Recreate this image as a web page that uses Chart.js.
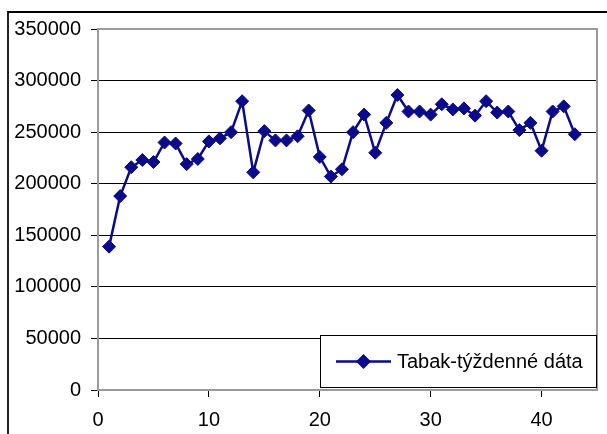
<!DOCTYPE html>
<html>
<head>
<meta charset="utf-8">
<script src="https://cdn.jsdelivr.net/npm/chart.js@4/dist/chart.umd.min.js"></script>
<style>
  html, body { margin: 0; padding: 0; background: #fff; }
  #wrap { position: relative; width: 607px; height: 434px; overflow: hidden; }
  #frame { position: absolute; left: 7px; top: 11px; right: -10px; bottom: -10px;
           border-left: 2px solid #222; border-top: 2px solid #000; }
  canvas { position: absolute; left: 0; top: 0; }
</style>
</head>
<body>
<div id="wrap">
  <div id="frame"></div>
  <canvas id="c" width="607" height="434"></canvas>
</div>
<script>
// Weekly tobacco figures
const weeks = [1, 2, 3, 4, 5, 6, 7, 8, 9, 10,
               11, 12, 13, 14, 15, 16, 17, 18, 19, 20,
               21, 22, 23, 24, 25, 26, 27, 28, 29, 30,
               31, 32, 33, 34, 35, 36, 37, 38, 39, 40,
               41, 42, 43];
const sales = [139000, 188000, 216000, 223000, 221000, 240000, 239000, 219000, 224000, 241000,
               244000, 250000, 280000, 211000, 251000, 242000, 242000, 246000, 271000, 226000,
               207000, 214000, 250000, 267000, 230000, 259000, 286000, 270000, 270000, 267000,
               277000, 272000, 273000, 266000, 280000, 269000, 270000, 252000, 259000, 232000,
               270000, 275000, 248000];
const seriesName = 'Tabak-týždenné dáta';
const xTicks = [0, 10, 20, 30, 40];
const yTicks = [0, 50000, 100000, 150000, 200000, 250000, 300000, 350000];

const NAVY = '#0a0a8a';
const FONT = { family: '"Liberation Sans", Arial, sans-serif', size: 20 };

// gray frame on the top and right sides of the plot area
const plotFrame = {
  id: 'plotFrame',
  beforeDatasetsDraw(chart) {
    const { ctx, chartArea: a } = chart;
    ctx.save();
    ctx.strokeStyle = '#9a9a9a';
    ctx.lineWidth = 2;
    ctx.beginPath();
    ctx.moveTo(a.left, a.top);
    ctx.lineTo(a.right, a.top);
    ctx.lineTo(a.right, a.bottom);
    ctx.stroke();
    ctx.restore();
  }
};

// boxed legend in the lower right corner of the plot
const boxLegend = {
  id: 'boxLegend',
  afterDraw(chart) {
    const { ctx, chartArea: a } = chart;
    const ds = chart.data.datasets[0];
    const right = a.right - 0.5, bottom = a.bottom - 2.5;
    const left = 320.5, top = 335.5;
    ctx.save();
    ctx.fillStyle = '#fff';
    ctx.fillRect(left, top, right - left, bottom - top);
    ctx.strokeStyle = '#000';
    ctx.lineWidth = 1;
    ctx.strokeRect(left, top, right - left, bottom - top);
    const cy = (top + bottom) / 2;
    ctx.strokeStyle = ds.borderColor;
    ctx.lineWidth = ds.borderWidth;
    ctx.beginPath();
    ctx.moveTo(336, cy);
    ctx.lineTo(391, cy);
    ctx.stroke();
    const cx = 363.5, r = 7.5;
    ctx.fillStyle = ds.pointBackgroundColor;
    ctx.beginPath();
    ctx.moveTo(cx - r, cy);
    ctx.lineTo(cx, cy - r);
    ctx.lineTo(cx + r, cy);
    ctx.lineTo(cx, cy + r);
    ctx.closePath();
    ctx.fill();
    ctx.fillStyle = '#000';
    ctx.font = FONT.size + 'px ' + FONT.family;
    ctx.textBaseline = 'middle';
    ctx.textAlign = 'left';
    ctx.fillText(ds.label, 397, cy + 1);
    ctx.restore();
  }
};

new Chart(document.getElementById('c'), {
  type: 'line',
  data: {
    datasets: [{
      label: seriesName,
      data: weeks.map((w, i) => ({ x: w, y: sales[i] })),
      borderColor: NAVY,
      backgroundColor: NAVY,
      borderWidth: 2.5,
      tension: 0,
      pointStyle: 'rectRot',
      pointRadius: 6.5,
      pointBorderWidth: 1,
      pointBackgroundColor: NAVY,
      pointBorderColor: NAVY
    }]
  },
  options: {
    responsive: false,
    animation: false,
    devicePixelRatio: 1,
    layout: { padding: { left: 0, right: 10, top: 29, bottom: 0 } },
    plugins: { legend: { display: false }, tooltip: { enabled: false } },
    scales: {
      x: {
        type: 'linear',
        min: 0,
        max: 45,
        afterBuildTicks: s => { s.ticks = xTicks.map(v => ({ value: v })); },
        afterFit: s => { s.height = 44; },
        grid: { drawOnChartArea: false, color: '#000', lineWidth: 1, tickLength: 7 },
        border: { color: '#9a9a9a', width: 2 },
        ticks: { color: '#000', font: FONT, padding: 11, maxRotation: 0,
                 callback: v => String(v) }
      },
      y: {
        min: 0,
        max: 350000,
        afterBuildTicks: s => { s.ticks = yTicks.map(v => ({ value: v })); },
        afterFit: s => { s.width = 98; },
        grid: { color: '#000', lineWidth: 1, tickLength: 7 },
        border: { color: '#9a9a9a', width: 2 },
        ticks: { color: '#000', font: FONT, padding: 10,
                 callback: v => String(v) }
      }
    }
  },
  plugins: [plotFrame, boxLegend]
});
</script>
</body>
</html>
